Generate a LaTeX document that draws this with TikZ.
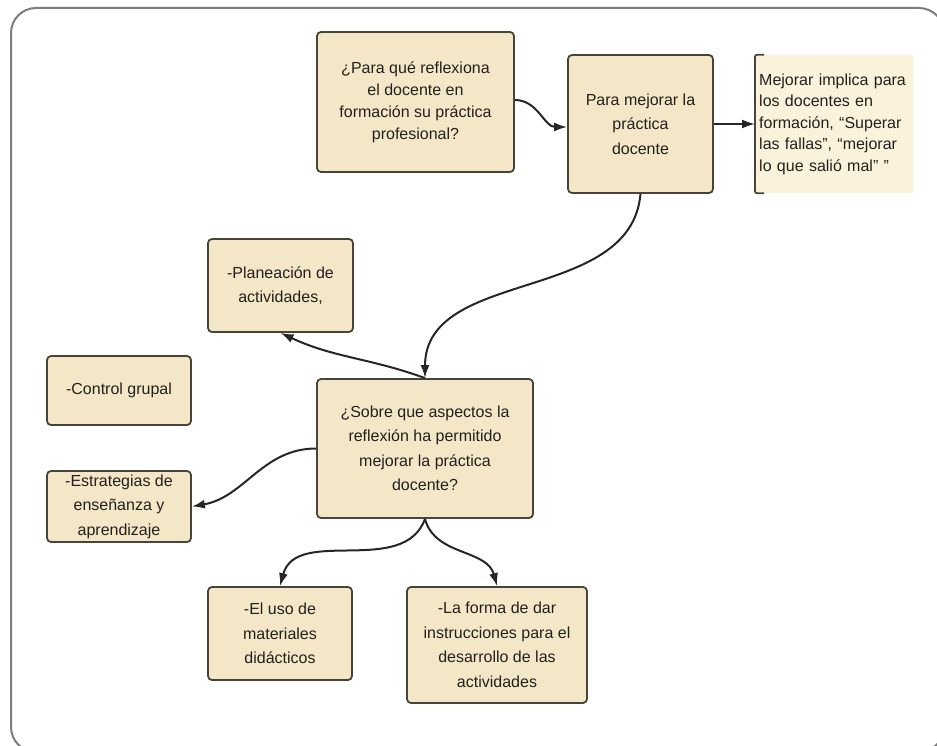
\documentclass[tikz,border=0pt]{standalone}
\usepackage{fontspec}
\setmainfont{Liberation Sans}
\usetikzlibrary{arrows.meta}
\definecolor{boxfill}{RGB}{243,231,199}
\definecolor{notefill}{RGB}{250,242,218}
\definecolor{boxline}{RGB}{72,68,58}
\definecolor{txt}{RGB}{35,33,30}
\definecolor{framecol}{RGB}{125,125,125}
\begin{document}
\begin{tikzpicture}[x=1pt,y=-1pt,
  box/.style={draw=boxline, fill=boxfill, line width=1.8pt, rounded corners=4pt,
    align=center, inner sep=0pt, text=txt, font=\fontsize{16}{24.5}\selectfont},
  tightbox/.style={box, font=\fontsize{16}{22}\selectfont},
  note/.style={fill=notefill, draw=none, align=left, inner xsep=4pt, inner ysep=0pt,
    text width=150pt, text=txt, font=\fontsize{16}{21.5}\selectfont},
  conn/.style={line width=2pt, draw=black!85, -{Latex[length=13pt,width=9pt]}}
]
\useasboundingbox (0,0) rectangle (937,746);
\begin{scope}
  \clip (0,0) rectangle (937,746);
  \draw[framecol, line width=2pt, rounded corners=25pt] (11,8) rectangle (944,752);
\end{scope}

% nodes
\node[tightbox, minimum width=197pt, minimum height=140pt] (b1) at (415.5,102)
  {¿Para qué reflexiona\\el docente en\\formación su práctica\\profesional?};
\node[box, minimum width=145pt, minimum height=138pt] (b2) at (640.5,124)
  {Para mejorar la\\práctica\\docente};
\node[note, minimum height=138pt, anchor=west] (b3) at (755,124)
  {Mejorar implica para\\los docentes en\\formación, “Superar\\las fallas”, “mejorar\\lo que salió mal” ”};
\draw[boxline, line width=1.8pt, rounded corners=2pt]
  ([xshift=9pt]b3.north west) -- (b3.north west) -- (b3.south west) -- ([xshift=9pt]b3.south west);

\node[box, minimum width=145pt, minimum height=93pt] (b4) at (280.5,285.5)
  {-Planeación de\\actividades,};
\node[box, minimum width=144pt, minimum height=69pt] (b5) at (119,390.5)
  {-Control grupal};
\node[box, minimum width=216pt, minimum height=139pt] (b6) at (425,448.5)
  {¿Sobre que aspectos la\\reflexión ha permitido\\mejorar la práctica\\docente?};
\node[box, minimum width=144pt, minimum height=71pt] (b7) at (119,506.5)
  {-Estrategias de\\enseñanza y\\aprendizaje};
\node[box, minimum width=144pt, minimum height=93pt] (b8) at (280,633.5)
  {-El uso de\\materiales\\didácticos};
\node[box, minimum width=180pt, minimum height=116pt] (b9) at (497,645)
  {-La forma de dar\\instrucciones para el\\desarrollo de las\\actividades};

% connectors
\draw[conn] ([yshift=2pt]b1.east) to[out=0,in=180] ([yshift=-3pt]b2.west);
\draw[conn] (b2.east) -- (b3.west);
\draw[conn] (b2.south) to[out=-95,in=90] (b6.north);
\draw[conn] (b6.north) to[out=160,in=-25] (b4.south);
\draw[conn] (b6.west) to[out=180,in=10] (b7.east);
\draw[conn] (b6.south) to[out=-110,in=75] (b8.north);
\draw[conn] (b6.south) to[out=-75,in=105] (b9.north);
\end{tikzpicture}
\end{document}
